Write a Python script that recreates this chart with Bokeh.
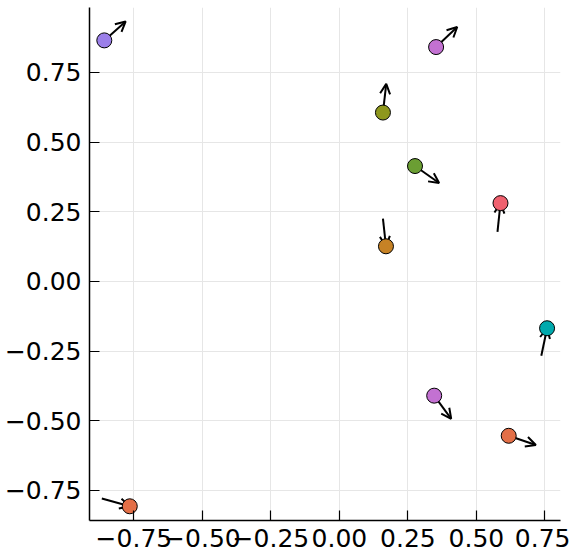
from bokeh.plotting import figure
from bokeh.models import ColumnDataSource, Arrow, OpenHead, FixedTicker, Range1d
from bokeh.embed import file_html
from bokeh.resources import INLINE

# Points (scatter markers)
pt_x = [-0.858, 0.353, 0.159, 0.276, 0.588, 0.170, -0.765, 0.758, 0.346, 0.618]
pt_y = [0.865, 0.841, 0.606, 0.414, 0.281, 0.126, -0.807, -0.168, -0.410, -0.554]
pt_color = ["#9B7FE9", "#C371D2", "#8E971D", "#6B9E33", "#F0616F",
            "#C68225", "#E36F47", "#00A9AD", "#C371D2", "#E36F47"]

# Arrows (tail -> head)
arr_x0 = [-0.858, 0.353, 0.159, 0.276, 0.577, 0.159, -0.867, 0.737, 0.346, 0.618]
arr_y0 = [0.865, 0.841, 0.606, 0.414, 0.178, 0.225, -0.779, -0.267, -0.410, -0.554]
arr_x1 = [-0.780, 0.430, 0.171, 0.364, 0.588, 0.170, -0.765, 0.758, 0.408, 0.717]
arr_y1 = [0.933, 0.913, 0.709, 0.353, 0.281, 0.126, -0.807, -0.168, -0.493, -0.587]

ticks = [-0.75, -0.50, -0.25, 0.0, 0.25, 0.50, 0.75]
tick_labels = ["\u22120.75", "\u22120.50", "\u22120.25", "0.00", "0.25", "0.50", "0.75"]

p = figure(frame_width=471, frame_height=513,
           x_range=Range1d(-0.912, 0.807), y_range=Range1d(-0.858, 0.983),
           output_backend="svg", toolbar_location=None,
           min_border_left=89, min_border_right=10, min_border_top=7, min_border_bottom=33)
p.outline_line_color = None
p.background_fill_color = "white"
p.border_fill_color = "white"

for ax in (p.xaxis[0], p.yaxis[0]):
    ax.ticker = FixedTicker(ticks=ticks)
    ax.major_label_overrides = {t: l for t, l in zip(ticks, tick_labels)}
    ax.major_label_text_font = "DejaVu Sans"
    ax.major_label_text_font_size = "25px"
    ax.major_label_text_color = "black"
    ax.axis_line_color = "black"
    ax.axis_line_width = 1.5
    ax.major_tick_line_color = "black"
    ax.major_tick_line_width = 1.2
    ax.major_tick_in = 10
    ax.major_tick_out = 0
    ax.minor_tick_line_color = None
p.xaxis[0].major_label_standoff = 8
p.yaxis[0].major_label_standoff = 8

p.xgrid.ticker = FixedTicker(ticks=ticks)
p.ygrid.ticker = FixedTicker(ticks=ticks)
p.grid.grid_line_color = "#e6e6e6"
p.grid.grid_line_width = 1

asrc = ColumnDataSource(dict(x0=arr_x0, y0=arr_y0, x1=arr_x1, y1=arr_y1))
arrows = Arrow(x_start="x0", y_start="y0", x_end="x1", y_end="y1", source=asrc,
               line_color="black", line_width=2,
               end=OpenHead(size=10, line_color="black", line_width=2),
               level="underlay")
p.add_layout(arrows)

psrc = ColumnDataSource(dict(x=pt_x, y=pt_y, c=pt_color))
p.scatter("x", "y", source=psrc, size=15, fill_color="c", line_color="black", line_width=1)

open("out.html", "w").write(file_html(p, INLINE))
